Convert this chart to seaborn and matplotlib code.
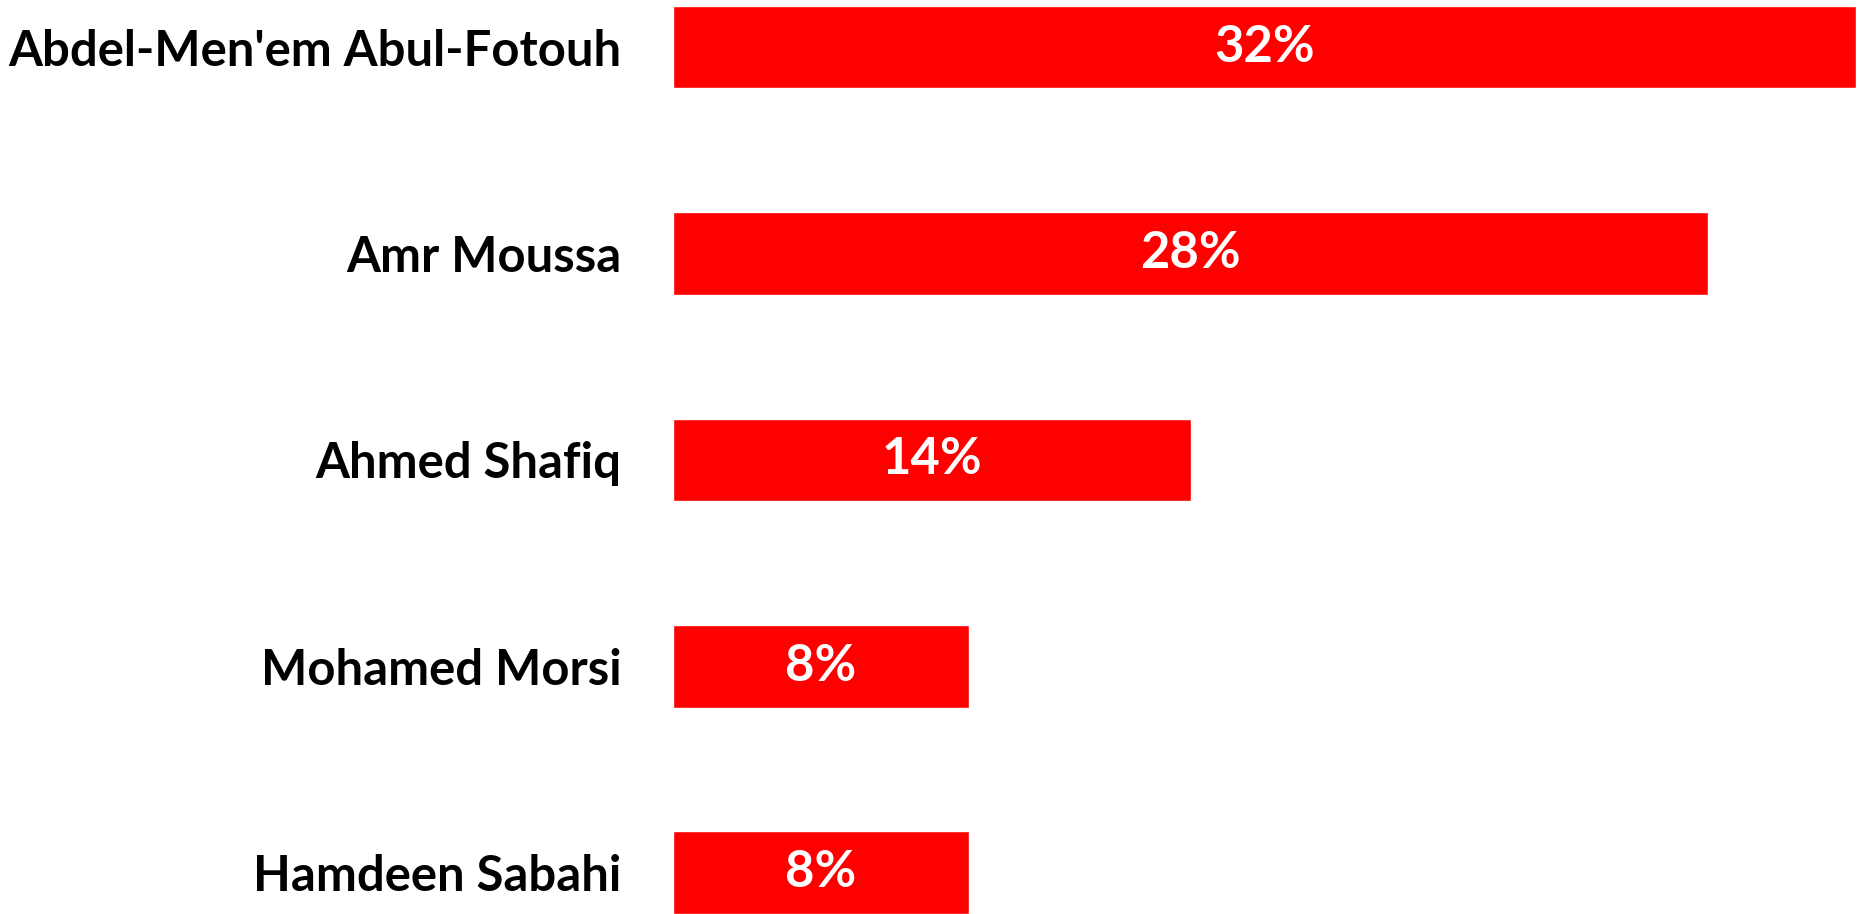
import pandas as pd
import matplotlib.pyplot as plt
import seaborn as sns

# candidates and their poll share (%)
candidates = ["Abdel-Men'em Abul-Fotouh", "Amr Moussa", "Ahmed Shafiq",
              "Mohamed Morsi", "Hamdeen Sabahi"]
shares = [32, 28, 14, 8, 8]

df = pd.DataFrame({'candidate': candidates, 'share': shares})

sns.set_style('white')
plt.rcParams['font.family'] = ['Lato', 'DejaVu Sans']

fig = plt.figure(figsize=(18.59, 9.14), dpi=100)
ax = fig.add_axes([673 / 1859, 0, 1183 / 1859, 1])

sns.barplot(data=df, x='share', y='candidate', color='#FF0000',
            saturation=1, width=0.4, orient='h', ax=ax)

ax.set_xlim(0, 32)
ax.set_ylim(4.2, -0.228)
ax.set_xlabel('')
ax.set_ylabel('')
ax.set_xticks([])
ax.tick_params(axis='y', length=0, pad=37)
for lbl in ax.get_yticklabels():
    lbl.set_fontsize(35.3)
    lbl.set_fontweight('bold')
    lbl.set_color('black')
sns.despine(left=True, bottom=True)

for i, v in enumerate(shares):
    ax.text(v / 2, i, f'{v}%', ha='center', va='center', color='white',
            fontsize=36.5, fontweight='bold')

fig.savefig('out.png', dpi=100)
